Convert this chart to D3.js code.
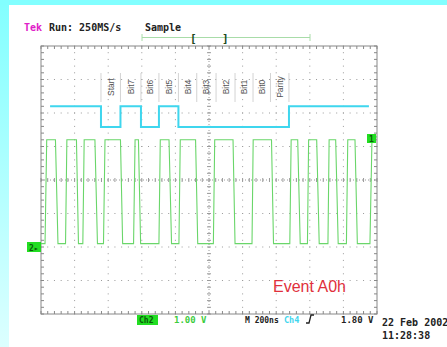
<!DOCTYPE html>
<html>
<head>
<meta charset="utf-8">
<script src="https://cdn.jsdelivr.net/npm/d3@7"></script>
<style>
  body { margin: 0; background: #fff; }
  svg { display: block; }
  text { font-family: "DejaVu Sans Mono", monospace; font-weight: bold; }
</style>
</head>
<body>
<script>
// window size
var W = 447, H = 347;

// graticule box (10 x 8 divisions)
var margin = {top: 46, right: 70, bottom: 33, left: 41};
var w = W - margin.left - margin.right;
var h = H - margin.top - margin.bottom;

// colors
var green = '#6ad66a';
var cyan = '#3fd6ee';
var gridColor = '#9a9a9a';

// Ch2 trace, time in ns (200ns/div), volts (1.00 V/div, ground 2 div below centre)
var ch2Times = [-1000, -976, -966, -914, -899, -854, -846, -789, -777, -751, -743, -679, -664,
                -628, -619, -527, -514, -449, -440, -420, -407, -298, -290, -238, -223, -179,
                -171, -80, -67, 26, 34, 143, 155, 256, 263, 372, 384, 481, 489, 528, 543, 586,
                593, 641, 656, 708, 715, 754, 769, 818, 826, 869, 883, 958, 970, 1000];
var ch2Volts = [0.1, 0.1, 3.2, 3.2, 0.1, 0.1, 3.2, 3.2, 0.1, 0.1, 3.2, 3.2, 0.1,
                0.1, 3.2, 3.2, 0.1, 0.1, 3.2, 3.2, 0.1, 0.1, 3.2, 3.2, 0.1, 0.1,
                3.2, 3.2, 0.1, 0.1, 3.2, 3.2, 0.1, 0.1, 3.2, 3.2, 0.1, 0.1, 3.2, 3.2, 0.1, 0.1,
                3.2, 3.2, 0.1, 0.1, 3.2, 3.2, 0.1, 0.1, 3.2, 3.2, 0.1, 0.1, 3.2, 3.3];
var ch2Position = -2;   // divisions
var ch2Scale = 1.00;    // V/div

// decoded frame (cyan), bit cells in ns
var bitLabels = ['Start', 'Bit7', 'Bit6', 'Bit5', 'Bit4', 'Bit3', 'Bit2', 'Bit1', 'Bit0', 'Parity'];
var bitEdges = [-643, -527, -405, -298, -182, -73, 42, 155, 262, 366, 476];
var bitValues = [0, 1, 0, 1, 0, 0, 0, 0, 0, 0];
var idleStart = -946, idleEnd = 952;
var frameHigh = 2.2, frameLow = 1.58;   // divisions

var svg = d3.select('body').append('svg')
            .attr('width', W)
            .attr('height', H);

// cyan frame of the screenshot
var grad = svg.append('defs').append('linearGradient')
              .attr('id', 'leftBand')
              .attr('x1', 0).attr('y1', 0).attr('x2', 0).attr('y2', 1);
grad.append('stop').attr('offset', '0%').attr('stop-color', '#82ffff');
grad.append('stop').attr('offset', '100%').attr('stop-color', '#dcffff');
svg.append('rect').attr('x', 0).attr('y', 0).attr('width', 9).attr('height', H).attr('fill', 'url(#leftBand)');
svg.append('rect').attr('x', 0).attr('y', 0).attr('width', W).attr('height', 5).attr('fill', '#82ffff');

// scales
var xScale = d3.scaleLinear().domain([-1000, 1000]).range([0, w]);
var yScale = d3.scaleLinear().domain([-4, 4]).range([h, 0]);

var focus = svg.append('g')
               .attr('transform', 'translate(' + margin.left + ',' + margin.top + ')');

// ---- graticule ----
var grid = focus.append('g').attr('class', 'grid');
var divX = d3.range(-1000, 1001, 200);
var divY = d3.range(-4, 4.01, 1);
var minorX = d3.range(-1000, 1001, 40);
var minorY = d3.range(-4, 4.01, 0.2);

// dotted division lines
divX.slice(1, -1).forEach(function(t) {
  if (t === 0) return;
  grid.selectAll(null).data(minorY).enter().append('rect')
      .attr('x', xScale(t) - 0.5).attr('y', function(d) { return yScale(d) - 0.5; })
      .attr('width', 1).attr('height', 1).attr('fill', gridColor);
});
divY.slice(1, -1).forEach(function(v) {
  if (v === 0) return;
  grid.selectAll(null).data(minorX).enter().append('rect')
      .attr('x', function(d) { return xScale(d) - 0.5; }).attr('y', yScale(v) - 0.5)
      .attr('width', 1).attr('height', 1).attr('fill', gridColor);
});

// centre lines with minor ticks
grid.append('line').attr('x1', 0).attr('x2', w).attr('y1', yScale(0)).attr('y2', yScale(0))
    .attr('stroke', gridColor).attr('stroke-dasharray', '1,2');
grid.append('line').attr('x1', xScale(0)).attr('x2', xScale(0)).attr('y1', 0).attr('y2', h)
    .attr('stroke', gridColor).attr('stroke-dasharray', '1,2');
grid.selectAll('.cx').data(minorX).enter().append('line')
    .attr('x1', function(d) { return xScale(d); }).attr('x2', function(d) { return xScale(d); })
    .attr('y1', yScale(0) - 2).attr('y2', yScale(0) + 2).attr('stroke', gridColor);
grid.selectAll('.cy').data(minorY).enter().append('line')
    .attr('y1', function(d) { return yScale(d); }).attr('y2', function(d) { return yScale(d); })
    .attr('x1', xScale(0) - 2).attr('x2', xScale(0) + 2).attr('stroke', gridColor);

// border with ticks
grid.append('rect').attr('x', 0).attr('y', 0).attr('width', w).attr('height', h)
    .attr('fill', 'none').attr('stroke', '#888');
[0, h].forEach(function(yy) {
  grid.selectAll(null).data(minorX).enter().append('line')
      .attr('x1', function(d) { return xScale(d); }).attr('x2', function(d) { return xScale(d); })
      .attr('y1', yy === 0 ? 0 : h - 3).attr('y2', yy === 0 ? 3 : h).attr('stroke', '#888');
});
[0, w].forEach(function(xx) {
  grid.selectAll(null).data(minorY).enter().append('line')
      .attr('y1', function(d) { return yScale(d); }).attr('y2', function(d) { return yScale(d); })
      .attr('x1', xx === 0 ? 0 : w - 3).attr('x2', xx === 0 ? 3 : w).attr('stroke', '#888');
});

// ---- decoded frame ----
var framePts = [[idleStart, 1]];
bitEdges.slice(0, -1).forEach(function(t, i) {
  framePts.push([t, i === 0 ? 1 : bitValues[i - 1]]);
  framePts.push([t, bitValues[i]]);
});
framePts.push([bitEdges[bitEdges.length - 1], bitValues[bitValues.length - 1]]);
framePts.push([bitEdges[bitEdges.length - 1], 1]);
framePts.push([idleEnd, 1]);

// separators and labels
focus.selectAll('.sep').data(bitEdges).enter().append('line')
     .attr('class', 'sep')
     .attr('x1', function(d) { return xScale(d); }).attr('x2', function(d) { return xScale(d); })
     .attr('y1', 27).attr('y2', 56)
     .attr('stroke', '#c8c8c8').attr('stroke-width', 0.8);

focus.selectAll('.bitlabel').data(bitLabels).enter().append('text')
     .attr('class', 'bitlabel')
     .attr('transform', function(d, i) {
       return 'translate(' + (xScale((bitEdges[i] + bitEdges[i + 1]) / 2) + 3) + ',41)rotate(-90)';
     })
     .attr('text-anchor', 'middle')
     .style('font-family', 'Liberation Sans, sans-serif')
     .style('font-weight', 'normal')
     .style('font-size', '8.5px')
     .attr('fill', '#555')
     .text(function(d) { return d; });

var frameLine = d3.line()
                  .x(function(d) { return xScale(d[0]); })
                  .y(function(d) { return yScale(d[1] ? frameHigh : frameLow); });
focus.append('path').datum(framePts)
     .attr('d', frameLine)
     .attr('fill', 'none').attr('stroke', cyan).attr('stroke-width', 2);

// ---- Ch2 trace ----
var ch2Line = d3.line()
                .x(function(d) { return xScale(d[0]); })
                .y(function(d) { return yScale(d[1] / ch2Scale + ch2Position); });
focus.append('path').datum(d3.zip(ch2Times, ch2Volts))
     .attr('d', ch2Line)
     .attr('fill', 'none').attr('stroke', green).attr('stroke-width', 1.1);

// ground marker and trigger level marker
var gy = margin.top + yScale(ch2Position);
svg.append('rect').attr('x', 27).attr('y', gy - 5).attr('width', 14).attr('height', 10).attr('fill', '#22dd22');
svg.append('text').attr('x', 29).attr('y', gy + 3.5).attr('fill', '#0a5a0a')
   .style('font-size', '8px').text('2\u25B8');
svg.append('rect').attr('x', 367).attr('y', 134).attr('width', 9).attr('height', 9).attr('fill', '#22dd22');
svg.append('text').attr('x', 369).attr('y', 141.5).attr('fill', '#0a5a0a')
   .style('font-size', '8px').text('1');

// ---- header ----
svg.append('text').attr('x', 24).attr('y', 31).attr('fill', '#e020c8').style('font-size', '10px').text('Tek');
svg.append('text').attr('x', 49).attr('y', 31).attr('fill', '#222').style('font-size', '10px').text('Run: 250MS/s');
svg.append('text').attr('x', 145).attr('y', 31).attr('fill', '#222').style('font-size', '10px').text('Sample');

// record view bar
svg.append('line').attr('x1', 142).attr('x2', 310).attr('y1', 37.5).attr('y2', 37.5).attr('stroke', '#a8dca8');
[142, 310].forEach(function(xx) {
  svg.append('line').attr('x1', xx).attr('x2', xx).attr('y1', 34).attr('y2', 41).attr('stroke', '#a8dca8');
});
svg.append('text').attr('x', 190).attr('y', 42).attr('fill', '#1a4a1a').style('font-size', '11px').text('[');
svg.append('text').attr('x', 222).attr('y', 42).attr('fill', '#1a4a1a').style('font-size', '11px').text(']');

// ---- annotation ----
svg.append('text').attr('x', 273).attr('y', 292)
   .style('font-family', 'Liberation Sans, sans-serif').style('font-weight', 'normal').style('font-size', '16px')
   .attr('fill', '#e0303c').text('Event A0h');

// ---- status line ----
svg.append('rect').attr('x', 137).attr('y', 315).attr('width', 21).attr('height', 10).attr('fill', '#22dd22');
svg.append('text').attr('x', 139).attr('y', 323).attr('fill', '#0a5a0a').style('font-size', '8px').text('Ch2');
svg.append('text').attr('x', 174).attr('y', 323).attr('fill', '#3ccc3c').style('font-size', '9px').text('1.00 V');
svg.append('text').attr('x', 245).attr('y', 323).attr('fill', '#222').style('font-size', '8px').text('M 200ns');
svg.append('text').attr('x', 284).attr('y', 323).attr('fill', cyan).style('font-size', '8.5px').text('Ch4');
svg.append('path').attr('d', 'M306,323 L309,323 L311,315 L314,315')
   .attr('fill', 'none').attr('stroke', '#222').attr('stroke-width', 1.3);
svg.append('text').attr('x', 341).attr('y', 323).attr('fill', '#222').style('font-size', '9px').text('1.80 V');
svg.append('text').attr('x', 382).attr('y', 326).attr('fill', '#222').style('font-size', '10px').text('22 Feb 2002');
svg.append('text').attr('x', 382).attr('y', 339).attr('fill', '#222').style('font-size', '10px').text('11:28:38');
</script>
</body>
</html>
